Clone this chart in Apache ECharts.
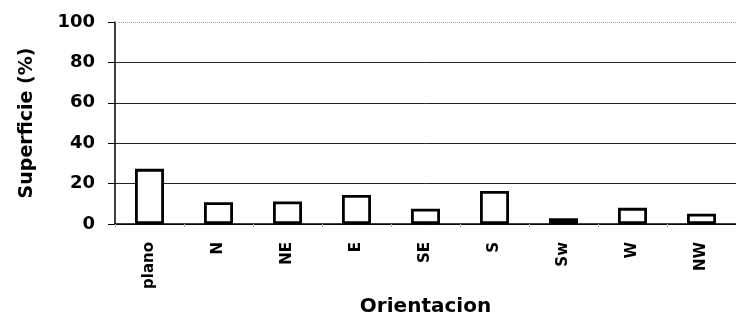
<!DOCTYPE html>
<html>
<head>
<meta charset="utf-8">
<script src="https://cdn.jsdelivr.net/npm/echarts@6/dist/echarts.min.js"></script>
<style>
  html, body { margin: 0; padding: 0; background: #fff; }
  #chart { width: 736px; height: 324px; }
</style>
</head>
<body>
<div id="chart"></div>
<script>
// Surface share by slope orientation
const categories = ['plano', 'N', 'NE', 'E', 'SE', 'S', 'Sw', 'W', 'NW'];
const superficie = [27.3, 10.8, 11.2, 14.4, 7.6, 16.3, 2.8, 8.0, 5.1];
const yTicks = [0, 20, 40, 60, 80, 100];

const FONT = 'DejaVu Sans';
const chart = echarts.init(document.getElementById('chart'), null, { renderer: 'canvas' });

chart.setOption({
  backgroundColor: '#fff',
  animation: false,
  grid: { left: 115, right: -10, top: 22, bottom: 100 },
  xAxis: {
    type: 'category',
    data: categories,
    name: 'Orientacion',
    nameLocation: 'middle',
    nameGap: 72,
    nameTextStyle: { fontFamily: FONT, fontWeight: 'bold', fontSize: 20, color: '#000' },
    axisLine: { lineStyle: { color: '#000', width: 1.5 } },
    axisTick: { show: true, length: 3, lineStyle: { color: '#bbb' } },
    axisLabel: {
      rotate: 90,
      margin: 18,
      fontFamily: FONT, fontWeight: 'bold', fontSize: 15, color: '#000'
    }
  },
  yAxis: {
    type: 'value',
    min: yTicks[0],
    max: yTicks[yTicks.length - 1],
    interval: yTicks[1] - yTicks[0],
    name: 'Superficie (%)',
    nameLocation: 'middle',
    nameGap: 78,
    nameRotate: 90,
    nameTextStyle: { fontFamily: FONT, fontWeight: 'bold', fontSize: 19, color: '#000' },
    axisLine: { show: true, lineStyle: { color: '#000', width: 1.5 } },
    axisTick: { show: true, length: 7, lineStyle: { color: '#000', width: 1 } },
    axisLabel: { margin: 20, fontFamily: FONT, fontWeight: 'bold', fontSize: 18, color: '#000' },
    splitLine: {
      show: true,
      lineStyle: { color: ['#222', '#222', '#222', '#222', '#222', 'rgba(0,0,0,0)'], width: 1 }
    }
  },
  series: [{
    type: 'bar',
    data: superficie,
    barWidth: 29,
    itemStyle: { color: '#fff', borderColor: '#000', borderWidth: 2.8 },
    markLine: {
      silent: true,
      symbol: 'none',
      label: { show: false },
      lineStyle: { color: '#aaa', type: 'dotted', width: 1 },
      data: [{ yAxis: 100 }]
    }
  }]
});
</script>
</body>
</html>
